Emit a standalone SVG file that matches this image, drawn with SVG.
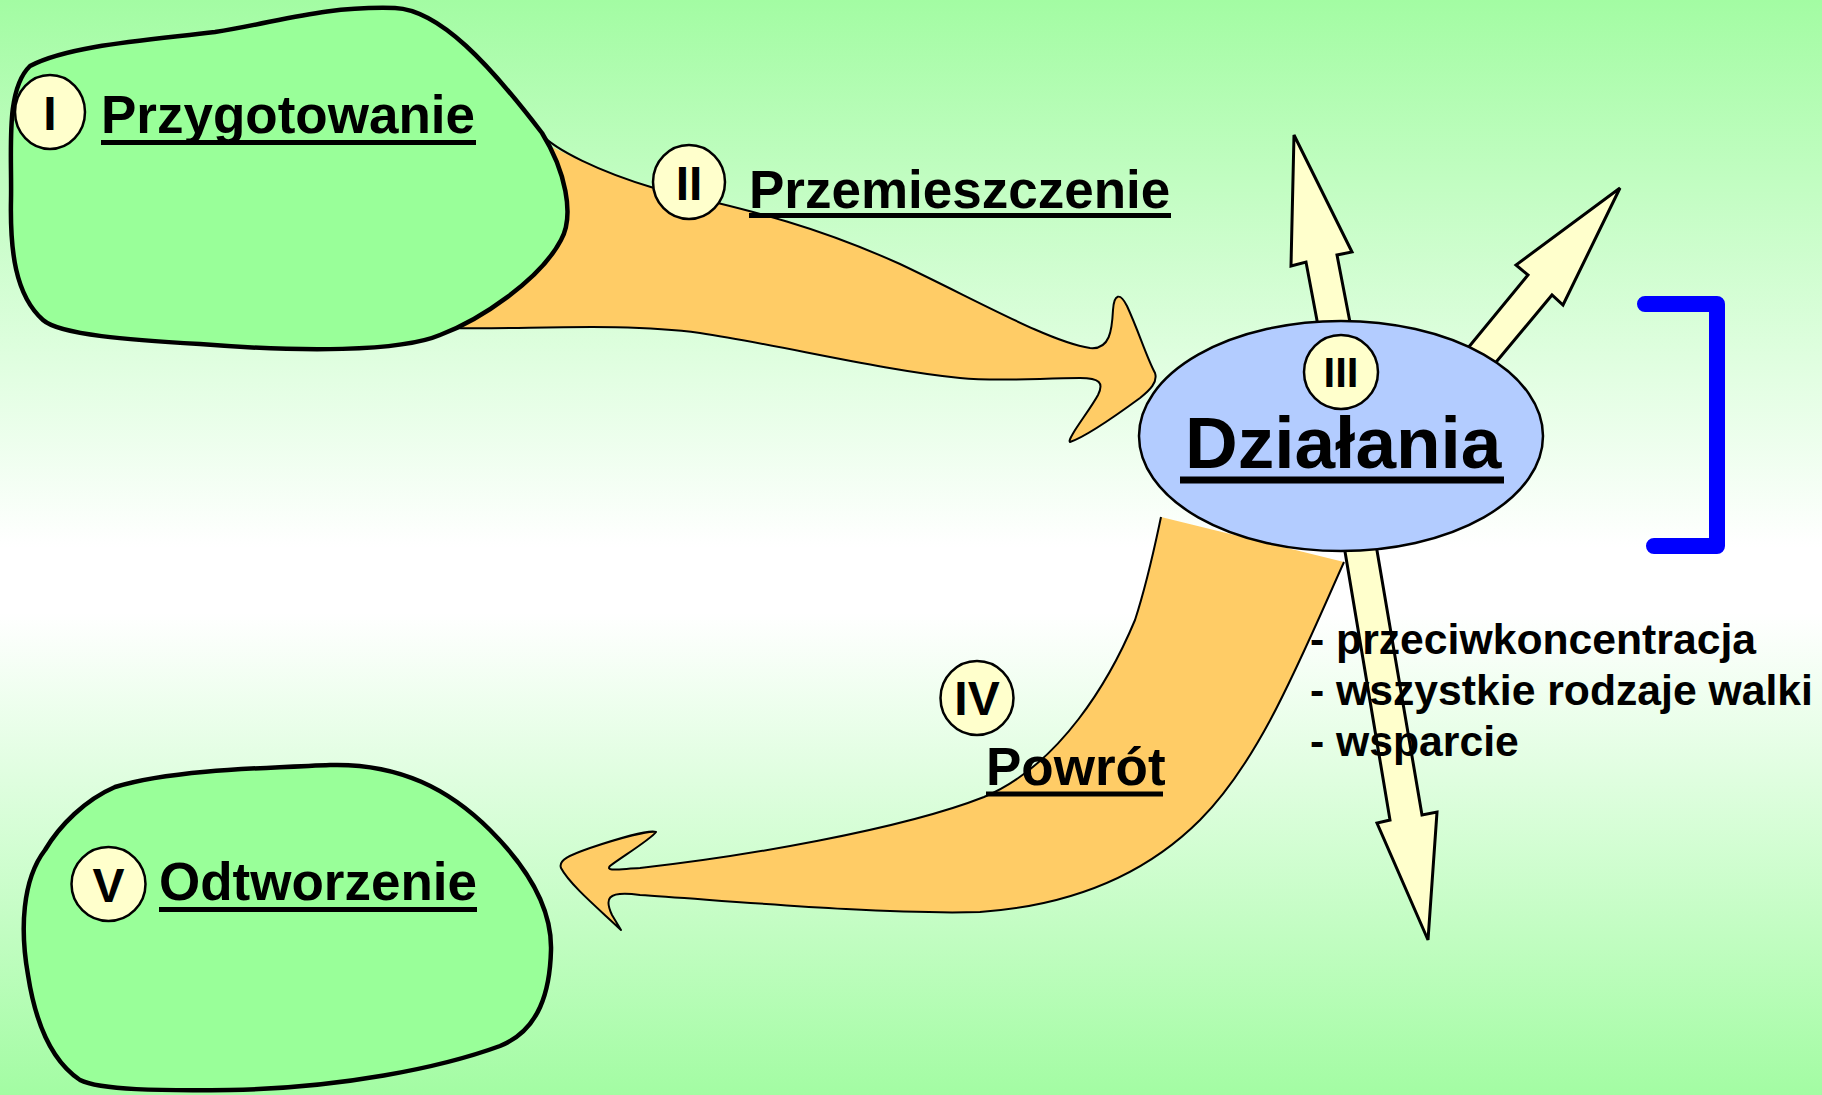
<svg xmlns="http://www.w3.org/2000/svg" width="1822" height="1095" viewBox="0 0 1822 1095">
  <defs>
    <linearGradient id="bg" x1="0" y1="0" x2="0" y2="1">
      <stop offset="0" stop-color="#a3fca3"/>
      <stop offset="0.5" stop-color="#ffffff"/>
      <stop offset="0.56" stop-color="#ffffff"/>
      <stop offset="1" stop-color="#a3fca3"/>
    </linearGradient>
  </defs>
  <style>
    .blob { fill: #99ff99; stroke: #000; stroke-width: 4.5; stroke-linejoin: round; }
    .flow { fill: #ffcc66; stroke: none; }
    .flowedge { fill: none; stroke: #000; stroke-width: 2; stroke-linejoin: round; }
    .ray { fill: #ffffcc; stroke: #000; stroke-width: 3; stroke-linejoin: miter; }
    .badge { fill: #ffffcc; stroke: #000; stroke-width: 2.5; }
    .num { font-family: "Liberation Sans", Arial, sans-serif; font-weight: bold; font-size: 48px; text-anchor: middle; fill: #000; }
    .lbl { font-family: "Liberation Sans", Arial, sans-serif; font-weight: bold; font-size: 53px; fill: #000; }
    .ul { stroke: #000; stroke-width: 5; }
    .bul { font-family: "Liberation Sans", Arial, sans-serif; font-weight: bold; font-size: 42.7px; fill: #000; }
  </style>
  <rect x="0" y="0" width="1822" height="1095" fill="url(#bg)"/>

  <g id="connectors">
    <!-- II: Przemieszczenie -->
    <path class="flow" d="M 500,120 C 555,150 600,172 654,188 C 760,212 820,228 900,264 C 980,302 1050,342 1090,348 C 1110,350 1112,330 1113,310 C 1114,294 1120,292 1127,306 C 1139,332 1146,356 1155,373 C 1158,382 1150,390 1140,398 C 1110,420 1082,438 1070,442 C 1066,440 1090,410 1098,395 C 1104,383 1100,378 1080,378 C 1040,378 1000,382 960,378 C 880,370 780,345 700,333 C 620,322 520,330 440,328 Z"/>
    <path class="flowedge" d="M 540,133 C 555,150 600,172 654,188 C 760,212 820,228 900,264 C 980,302 1050,342 1090,348 C 1110,350 1112,330 1113,310 C 1114,294 1120,292 1127,306 C 1139,332 1146,356 1155,373 C 1158,382 1150,390 1140,398 C 1110,420 1082,438 1070,442 C 1066,440 1090,410 1098,395 C 1104,383 1100,378 1080,378 C 1040,378 1000,382 960,378 C 880,370 780,345 700,333 C 620,322 520,330 450,328"/>
    <!-- IV: Powrót -->
    <path class="flow" d="M 1161,517 L 1344,562 C 1300,660 1260,760 1200,820 C 1150,870 1080,905 980,912 C 880,915 720,900 640,895 C 605,890 605,900 612,915 L 621,930 C 600,910 570,885 561,868 C 558,860 570,855 590,848 C 620,838 650,830 656,832 C 650,840 620,858 610,866 C 605,872 620,869 640,868 C 740,857 900,830 984,797 C 1060,765 1110,680 1135,620 C 1148,580 1155,545 1161,517 Z"/>
    <path class="flowedge" d="M 1344,562 C 1300,660 1260,760 1200,820 C 1150,870 1080,905 980,912 C 880,915 720,900 640,895 C 605,890 605,900 612,915 L 621,930 C 600,910 570,885 561,868 C 558,860 570,855 590,848 C 620,838 650,830 656,832 C 650,840 620,858 610,866 C 605,872 620,869 640,868 C 740,857 900,830 984,797 C 1060,765 1110,680 1135,620 C 1148,580 1155,545 1161,517"/>
    <!-- rays from Działania -->
    <polygon class="ray" points="1294,135 1352,252 1337,255 1365,400 1332,400 1306,262 1291,266"/>
    <polygon class="ray" points="1440,382 1528,275 1516,265 1620,188 1563,305 1552,295 1467,397"/>
    <polygon class="ray" points="1333,480 1365,480 1422,815 1437,812 1428,940 1377,823 1390,820"/>
  </g>

  <g id="node-przygotowanie">
    <path class="blob" d="M 30,66 C 70,45 150,40 215,32 C 280,22 320,6 395,8 C 440,10 490,65 542,133 C 565,170 575,215 561,240 C 540,280 480,320 440,335 C 400,352 300,352 200,344 C 130,340 60,335 43,320 C 15,295 10,250 11,200 C 12,150 5,90 30,66 Z"/>
    <ellipse class="badge" cx="50" cy="112" rx="35" ry="37"/>
    <text class="num" x="50" y="130">I</text>
    <text class="lbl" x="101" y="133">Przygotowanie</text>
    <line class="ul" x1="101" y1="142.5" x2="476" y2="142.5"/>
  </g>

  <g id="node-przemieszczenie">
    <ellipse class="badge" cx="689" cy="182" rx="36" ry="37"/>
    <text class="num" x="689" y="200">II</text>
    <text class="lbl" x="749" y="208">Przemieszczenie</text>
    <line class="ul" x1="749" y1="215.5" x2="1171" y2="215.5"/>
  </g>

  <g id="node-dzialania">
    <ellipse cx="1341" cy="436" rx="202" ry="115" fill="#b3ccff" stroke="#000" stroke-width="2.5"/>
    <ellipse class="badge" cx="1341" cy="372" rx="37" ry="37"/>
    <text class="num" x="1341" y="387" style="font-size:42px">III</text>
    <text class="lbl" x="1185" y="468" style="font-size:73px">Działania</text>
    <line x1="1180" y1="480" x2="1504" y2="480" stroke="#000" stroke-width="7"/>
  </g>

  <g id="bracket">
    <path d="M 1645,304 L 1717,304 L 1717,546 L 1654,546" fill="none" stroke="#0000ff" stroke-width="16" stroke-linecap="round" stroke-linejoin="round"/>
  </g>

  <g id="node-lista">
    <text class="bul" x="1310" y="654">- przeciwkoncentracja</text>
    <text class="bul" x="1310" y="705">- wszystkie rodzaje walki</text>
    <text class="bul" x="1310" y="756">- wsparcie</text>
  </g>

  <g id="node-powrot">
    <ellipse class="badge" cx="977" cy="698" rx="36.5" ry="37"/>
    <text class="num" x="977" y="715">IV</text>
    <text class="lbl" x="986" y="785">Powrót</text>
    <line class="ul" x1="986" y1="794" x2="1163" y2="794"/>
  </g>

  <g id="node-odtworzenie">
    <path class="blob" d="M 115,787 C 170,770 260,768 330,765 C 400,763 450,790 490,830 C 530,870 552,910 551,950 C 550,990 540,1030 500,1046 C 440,1068 340,1088 230,1090 C 160,1091 100,1090 80,1080 C 50,1060 35,1020 28,975 C 20,930 22,880 45,850 C 60,825 85,800 115,787 Z"/>
    <ellipse class="badge" cx="108.5" cy="884" rx="37" ry="37"/>
    <text class="num" x="108.5" y="902">V</text>
    <text class="lbl" x="159" y="900">Odtworzenie</text>
    <line class="ul" x1="159" y1="909.5" x2="477" y2="909.5"/>
  </g>
</svg>
